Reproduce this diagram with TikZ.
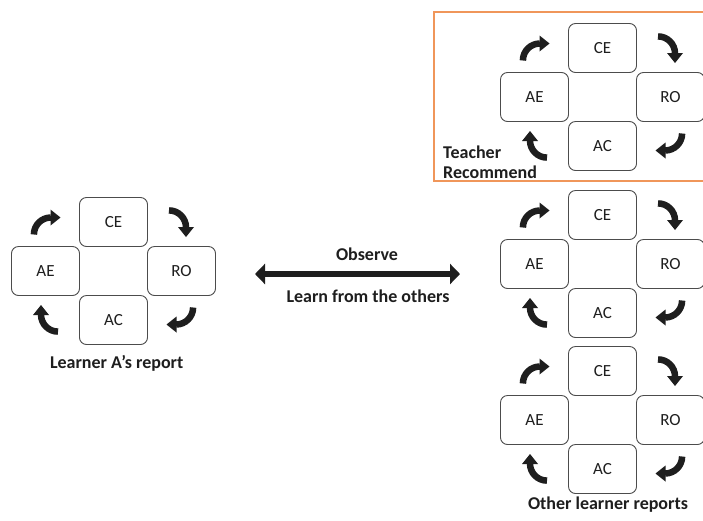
\documentclass[tikz,border=0pt]{standalone}
\usepackage{fontspec}
\setmainfont{Carlito}
\usetikzlibrary{arrows.meta}
\definecolor{teacherframe}{RGB}{240,150,90}
\definecolor{inkdark}{RGB}{30,30,30}

% one learning cycle: four stage boxes and four curved arrows around a centre
\newcommand\learncycle[3]{%
  \node[stagebox] (#1ce) at (#2,#3-49) {CE};
  \node[stagebox] (#1ae) at (#2-68,#3) {AE};
  \node[stagebox] (#1ro) at (#2+68,#3) {RO};
  \node[stagebox] (#1ac) at (#2,#3+49) {AC};
  \pic at (#1ae |- #1ce) {turnarrow};
  \pic[rotate=-90] at (#1ro |- #1ce) {turnarrow};
  \pic[rotate=180] at (#1ro |- #1ac) {turnarrow};
  \pic[rotate=90] at (#1ae |- #1ac) {turnarrow};
}

\begin{document}
\begin{tikzpicture}[x=1pt,y=-1pt,
  stagebox/.style={draw=black!70, line width=0.9pt, rounded corners=7pt,
    minimum width=68pt, minimum height=49pt, inner sep=0pt, fill=white,
    text=inkdark, font=\fontsize{17}{20}\selectfont},
  caption/.style={text=inkdark, font=\bfseries\fontsize{18}{21}\selectfont, inner sep=0pt},
  turnarrow/.pic={
    \draw[inkdark, line width=6.5pt] (-11.6,12.5) arc[start angle=180, end angle=270, radius=17];
    \fill[inkdark] (5,-12.5) -- (15,-4.5) -- (5,3.5) -- cycle;
  }]
\useasboundingbox (0,0) rectangle (703,520);
\fill[white] (0,0) rectangle (703,520);

% frame of the teacher's recommended cycle
\draw[teacherframe, line width=1.3pt] (434,12) rectangle (712,181);

\learncycle{l}{113.5}{271}
\learncycle{t}{602.5}{97}
\learncycle{m}{602.5}{264}
\learncycle{b}{602.5}{420}

\node[caption, anchor=west] (teacher) at (443,152) {Teacher};
\node[caption, anchor=west] (recommend) at (443,172) {Recommend};
\node[caption] (learnerA) at (116.7,363) {Learner A’s report};
\node[caption] (others) at (608,505) {Other learner reports};

% two-way link between the learner and the others
\coordinate (obsL) at (255,274);
\coordinate (obsR) at (460,274);
\draw[inkdark, line width=6pt, {Triangle[length=10pt,width=20pt]}-{Triangle[length=10pt,width=20pt]}] (obsL) -- (obsR);
\node[caption] (observe) at (367,254) {Observe};
\node[caption] (learnfrom) at (368,296) {Learn from the others};
\end{tikzpicture}
\end{document}
